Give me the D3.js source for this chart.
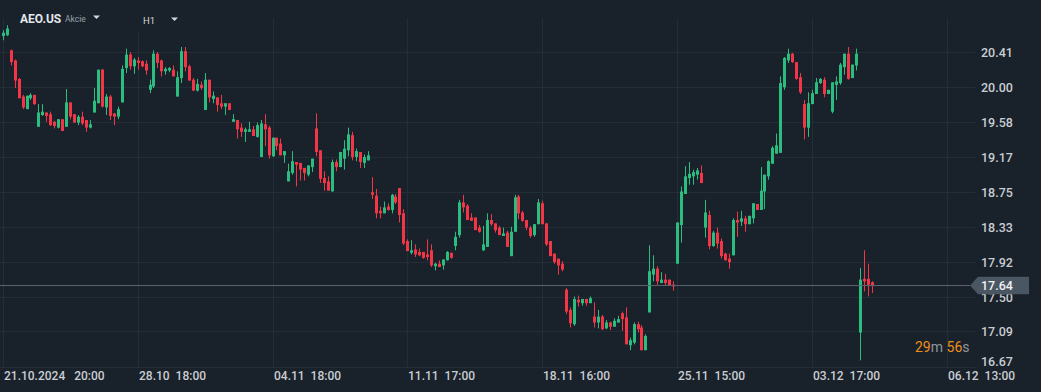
<!DOCTYPE html>
<html>
<head>
<meta charset="utf-8">
<script src="https://cdn.jsdelivr.net/npm/d3@7/dist/d3.min.js"></script>
<style>
  html, body { margin: 0; padding: 0; background: #19212a; overflow: hidden; }
  svg { display: block; font-family: Roboto, "Noto Sans", sans-serif; }
</style>
</head>
<body>
<svg id="chart" width="1041" height="392"></svg>
<script>
// ---- data (hourly candles, AEO.US, H1) ----
const opens = [
20.61,20.62,20.44,20.32,20.10,19.89,19.74,19.87,19.91,19.53,19.67,19.70,19.68,19.59,19.52,19.62,19.53,19.82,19.68,19.58,
19.65,19.61,19.52,19.70,19.81,20.21,19.76,19.89,19.69,19.65,19.82,20.23,20.39,20.25,20.32,20.31,20.28,19.97,20.01,20.40,
20.32,20.19,20.20,20.21,19.89,20.11,20.43,20.25,20.09,19.96,20.03,19.73,20.09,19.86,19.88,19.81,19.77,19.81,19.59,19.61,
19.52,19.47,19.47,19.50,19.41,19.17,19.56,19.52,19.18,19.40,19.33,19.19,18.88,18.98,19.11,19.10,19.04,18.96,19.05,19.51,
19.25,18.92,18.88,18.76,19.11,19.05,19.15,19.25,19.43,19.17,19.23,19.10,19.13,18.75,18.71,18.53,18.50,18.58,18.54,18.70,
18.80,18.50,18.17,18.03,18.07,18.04,18.04,18.01,18.06,17.87,17.90,17.88,17.94,18.03,18.11,18.24,18.63,18.59,18.45,18.45,
18.33,18.06,18.10,18.42,18.38,18.33,18.23,18.27,17.99,18.28,18.70,18.51,18.42,18.33,18.24,18.37,18.62,18.38,18.17,18.02,
17.96,17.90,17.59,17.35,17.18,17.47,17.43,17.48,17.43,17.27,17.20,17.27,17.13,17.20,17.15,17.20,17.31,17.26,16.93,16.96,
17.18,17.14,16.87,17.32,17.77,17.84,17.67,17.71,17.71,17.65,17.90,18.36,18.73,18.92,18.94,18.96,18.98,18.33,18.48,18.11,
18.27,18.17,18.02,17.96,18.00,18.42,18.40,18.44,18.37,18.44,18.61,18.54,18.76,18.94,19.09,19.21,19.22,20.00,20.32,20.40,
20.30,20.12,19.80,19.52,19.80,19.92,20.05,20.09,19.92,19.71,20.03,20.05,20.24,20.40,20.11,20.26,17.08,17.72,17.72,17.68];
const highs = [
20.68,20.74,20.45,20.33,20.11,19.91,19.90,19.93,19.91,19.80,19.80,19.70,19.71,19.60,19.62,19.62,19.98,19.82,19.68,19.67,
19.71,19.61,19.61,19.99,20.21,20.22,19.92,19.91,19.69,19.77,20.26,20.46,20.42,20.35,20.36,20.32,20.32,20.09,20.44,20.42,
20.33,20.24,20.24,20.26,20.19,20.48,20.48,20.27,20.11,20.10,20.07,20.17,20.09,19.95,19.88,19.91,19.81,19.81,19.68,19.61,
19.57,19.52,19.59,19.54,19.58,19.61,19.68,19.54,19.40,19.40,19.39,19.24,19.09,19.24,19.11,19.10,19.04,19.07,19.15,19.69,
19.25,19.00,18.94,19.14,19.14,19.23,19.37,19.52,19.47,19.27,19.23,19.20,19.24,18.93,18.79,18.58,18.64,18.62,18.73,18.73,
18.80,18.55,18.19,18.18,18.13,18.08,18.04,18.19,18.13,17.91,17.94,17.95,18.05,18.03,18.28,18.66,18.72,18.61,18.50,18.45,
18.36,18.35,18.50,18.49,18.38,18.35,18.33,18.29,18.34,18.72,18.72,18.53,18.42,18.35,18.37,18.67,18.65,18.38,18.17,18.02,
17.96,17.93,17.61,17.38,17.51,17.52,17.48,17.48,17.51,17.44,17.35,17.29,17.23,17.21,17.25,17.28,17.33,17.38,17.02,17.20,
17.21,17.17,17.06,18.12,18.00,17.87,17.80,17.78,17.71,17.69,18.39,18.82,19.06,19.11,19.02,19.04,19.07,18.66,18.53,18.29,
18.33,18.20,18.03,18.02,18.44,18.52,18.53,18.47,18.47,18.62,18.61,19.05,18.96,19.13,19.30,19.45,20.13,20.36,20.46,20.41,
20.30,20.17,19.85,19.94,19.97,20.11,20.11,20.12,19.97,20.06,20.13,20.29,20.40,20.48,20.27,20.46,17.85,18.06,17.90,17.69];
const lows = [
20.56,20.61,20.26,19.99,19.87,19.74,19.74,19.85,19.79,19.53,19.66,19.59,19.54,19.51,19.51,19.48,19.53,19.62,19.58,19.55,
19.55,19.47,19.51,19.70,19.81,19.76,19.67,19.61,19.55,19.62,19.82,20.17,20.21,20.16,20.21,20.24,20.15,19.93,19.99,20.23,
20.13,20.15,20.18,20.13,19.89,20.05,20.19,20.08,19.96,19.95,19.97,19.73,19.82,19.81,19.71,19.74,19.67,19.73,19.59,19.39,
19.41,19.35,19.47,19.42,19.40,19.17,19.30,19.15,19.17,19.25,19.19,19.10,18.88,18.96,18.82,18.89,18.89,18.94,18.99,19.18,
18.86,18.77,18.77,18.76,19.00,19.05,19.02,19.18,19.13,19.12,19.04,19.04,19.13,18.67,18.44,18.44,18.50,18.53,18.50,18.61,
18.39,18.12,18.05,18.01,17.98,17.99,17.96,17.94,17.86,17.82,17.86,17.83,17.94,17.96,18.06,18.21,18.51,18.42,18.41,18.30,
18.27,18.05,18.10,18.35,18.27,18.24,18.23,18.10,17.99,18.28,18.43,18.40,18.30,18.21,18.22,18.37,18.37,18.11,17.99,17.90,
17.77,17.81,17.30,17.14,17.16,17.39,17.40,17.40,17.43,17.14,17.13,17.11,17.12,17.11,17.15,17.20,17.10,16.94,16.87,16.94,
17.08,16.87,16.87,17.32,17.69,17.65,17.67,17.64,17.64,17.58,17.90,18.15,18.73,18.84,18.84,18.90,18.86,18.21,18.07,18.10,
18.08,17.96,17.94,17.84,18.00,18.22,18.35,18.28,18.37,18.38,18.54,18.54,18.55,18.90,19.09,19.21,19.22,19.97,20.29,20.29,
20.09,19.92,19.38,19.41,19.80,19.92,20.04,19.88,19.92,19.69,19.85,20.03,20.15,20.09,20.11,20.20,16.75,17.57,17.51,17.55];
const closes = [
20.65,20.70,20.30,20.08,19.87,19.76,19.90,19.91,19.80,19.70,19.71,19.66,19.55,19.54,19.62,19.48,19.82,19.65,19.58,19.65,
19.57,19.52,19.56,19.84,20.21,19.77,19.89,19.66,19.65,19.74,20.22,20.39,20.25,20.33,20.29,20.25,20.20,20.03,20.40,20.29,
20.19,20.22,20.23,20.13,20.12,20.43,20.24,20.08,19.96,20.04,19.99,20.09,19.88,19.90,19.79,19.77,19.81,19.73,19.62,19.50,
19.47,19.50,19.50,19.42,19.55,19.57,19.50,19.19,19.40,19.30,19.19,19.24,19.00,19.12,19.08,19.02,18.98,19.07,19.15,19.23,
18.91,18.86,18.77,19.11,19.05,19.23,19.27,19.44,19.17,19.24,19.11,19.17,19.19,18.72,18.50,18.50,18.57,18.54,18.72,18.63,
18.48,18.14,18.05,18.06,18.01,18.00,17.97,17.98,17.88,17.90,17.86,17.95,18.04,17.97,18.22,18.63,18.57,18.42,18.41,18.30,
18.28,18.13,18.42,18.37,18.30,18.24,18.26,18.10,18.28,18.69,18.50,18.41,18.33,18.23,18.37,18.63,18.37,18.13,17.99,17.92,
17.88,17.83,17.33,17.19,17.48,17.44,17.48,17.43,17.49,17.20,17.27,17.12,17.20,17.15,17.22,17.24,17.24,16.94,16.99,17.18,
17.12,16.87,17.04,17.81,17.84,17.69,17.71,17.67,17.64,17.63,18.39,18.76,18.94,18.97,18.99,19.01,18.86,18.51,18.11,18.27,
18.14,17.99,17.94,17.92,18.42,18.39,18.44,18.37,18.47,18.62,18.54,18.77,18.96,19.12,19.28,19.31,20.05,20.35,20.40,20.30,
20.10,19.94,19.52,19.81,19.93,20.06,20.10,19.92,19.97,20.06,20.07,20.27,20.40,20.10,20.27,20.40,17.71,17.69,17.65,17.64];

const priceTicks = [20.41, 20.00, 19.58, 19.17, 18.75, 18.33, 17.92, 17.50, 17.09, 16.67];
const priceTickLabels = ["20.41", "20.00", "19.58", "19.17", "18.75", "18.33", "17.92", "17.50", "17.09", "16.67"];
const timeTickBars = [0, 34, 68, 102, 136, 170, 204, 238];
const timeTickLabels = ["21.10.2024   20:00", "28.10  18:00", "04.11  18:00", "11.11  17:00",
                        "18.11  16:00", "25.11  15:00", "03.12  17:00", "06.12  13:00"];
const lastPrice = 17.64;
const symbol = "AEO.US", assetType = "Akcie", interval = "H1";
const countdown = [["29", "num"], ["m", "unit"], [" ", "unit"], ["56", "num"], ["s", "unit"]];

// ---- setup ----
const W = 1041, H = 392;
const plotRight = 975, plotTop = 18, plotBottom = 367;
const BG = "#19212a", GRID = "#232d36", TXT = "#c9cdd2";
const UP = "#2bbd7f", DOWN = "#f23648";

const candles = opens.map((o, i) => ({ i, o, h: highs[i], l: lows[i], c: closes[i] }));

const svg = d3.select("#chart");
svg.append("rect").attr("width", W).attr("height", H).attr("fill", BG);

const x = d3.scaleLinear().domain([0, 238]).range([3.2, 947.5]);
const y = d3.scaleLinear().domain([17.50, 20.00]).range([297.3, 87.3]);
const px = v => Math.floor(v) + 0.5;

// grid
const grid = svg.append("g");
grid.selectAll("line.h").data(priceTicks).join("line")
  .attr("x1", 0).attr("x2", plotRight)
  .attr("y1", d => px(y(d))).attr("y2", d => px(y(d)))
  .attr("stroke", GRID).attr("stroke-width", 1);
grid.selectAll("line.v").data(timeTickBars).join("line")
  .attr("x1", d => px(x(d))).attr("x2", d => px(x(d)))
  .attr("y1", plotTop).attr("y2", px(y(16.67)))
  .attr("stroke", GRID).attr("stroke-width", 1);

// header background (hides grid under the interval box)
svg.append("rect").attr("x", 128).attr("y", 0).attr("width", 62).attr("height", 31).attr("fill", BG);

// candles
const cg = svg.append("g");
cg.selectAll("line.wick").data(candles).join("line")
  .attr("x1", d => Math.floor(x(d.i)) + 0.5).attr("x2", d => Math.floor(x(d.i)) + 0.5)
  .attr("y1", d => y(d.h)).attr("y2", d => y(d.l))
  .attr("stroke", d => d.c >= d.o ? UP : DOWN).attr("stroke-width", 1);
cg.selectAll("rect.body").data(candles).join("rect")
  .attr("x", d => Math.floor(x(d.i)) - 1)
  .attr("width", 3)
  .attr("y", d => y(Math.max(d.o, d.c)))
  .attr("height", d => Math.max(1, Math.abs(y(d.o) - y(d.c))))
  .attr("fill", d => d.c >= d.o ? UP : DOWN);

// last price line
svg.append("line").attr("x1", 0).attr("x2", 970)
  .attr("y1", y(lastPrice)).attr("y2", y(lastPrice))
  .attr("stroke", "#5b6670").attr("stroke-width", 1);

// right axis labels
svg.append("g").selectAll("text").data(priceTicks).join("text")
  .attr("x", 981)
  .attr("y", d => Math.min(y(d), 361))
  .attr("dy", "0.36em")
  .attr("fill", TXT).attr("font-size", 12.5).attr("font-weight", 500)
  .text((d, i) => priceTickLabels[i]);

// bottom axis labels
svg.append("g").selectAll("text").data(timeTickBars).join("text")
  .attr("x", d => Math.floor(x(d)) + 1)
  .attr("y", 380)
  .attr("fill", TXT).attr("font-size", 12).attr("font-weight", 500)
  .style("white-space", "pre")
  .text((d, i) => timeTickLabels[i]);

// last price tag
const ty = y(lastPrice);
svg.append("path")
  .attr("d", `M970,${ty} L978,${ty - 8.8} L1029,${ty - 8.8} L1029,${ty + 8.8} L978,${ty + 8.8} Z`)
  .attr("fill", "#4a5661");
svg.append("text").attr("x", 981).attr("y", ty).attr("dy", "0.36em")
  .attr("fill", "#eef1f4").attr("font-size", 12.5).attr("font-weight", 500)
  .text(lastPrice.toFixed(2));

// countdown
const cd = svg.append("text").attr("x", 915).attr("y", 352).attr("font-size", 14)
  .style("white-space", "pre");
cd.selectAll("tspan").data(countdown).join("tspan")
  .attr("fill", d => d[1] === "num" ? "#ef8f1a" : "#8f969d")
  .text(d => d[0]);

// header
svg.append("text").attr("x", 20).attr("y", 22.5).attr("font-size", 12).attr("font-weight", 700)
  .attr("fill", "#e4e7ea").text(symbol);
svg.append("text").attr("x", 65).attr("y", 22).attr("font-size", 8.5)
  .attr("fill", "#98a1a9").text(assetType);
svg.append("path").attr("d", "M93,15.5 L100,15.5 L96.5,19 Z").attr("fill", "#d3d7db");
svg.append("text").attr("x", 143).attr("y", 23.5).attr("font-size", 9.5)
  .attr("fill", "#d3d7db").text(interval);
svg.append("path").attr("d", "M171,17.5 L178,17.5 L174.5,21 Z").attr("fill", "#d3d7db");
</script>
</body>
</html>
